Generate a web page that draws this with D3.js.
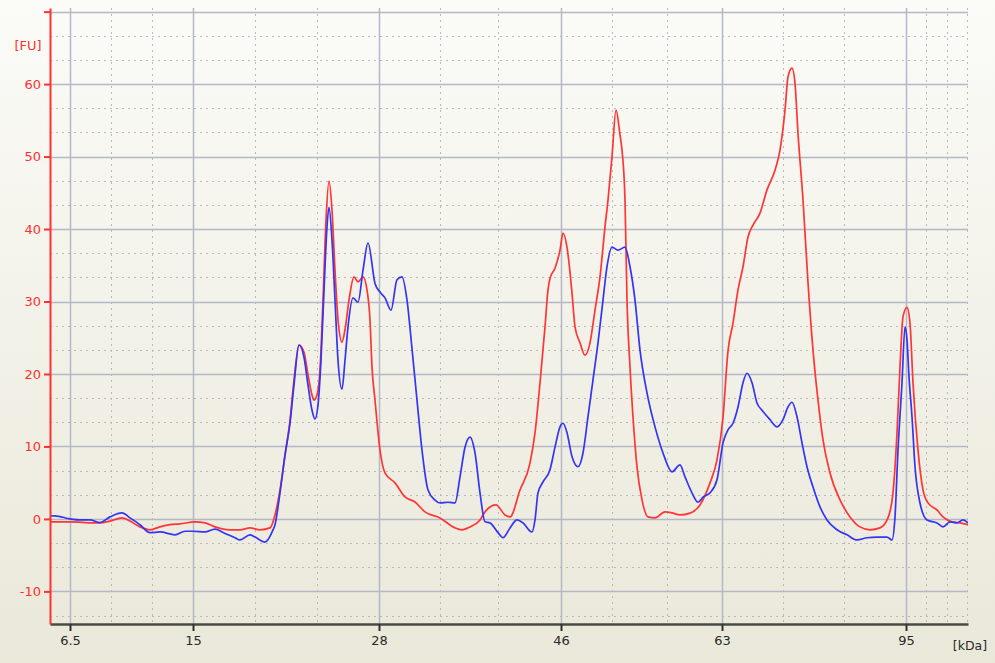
<!DOCTYPE html>
<html><head><meta charset="utf-8">
<script src="https://cdn.jsdelivr.net/npm/d3@7"></script>
<style>html,body{margin:0;padding:0;overflow:hidden;}svg{display:block;}</style>
</head><body>
<svg id="chart" width="995" height="663"></svg>
<script>
// migration time (s) and fluorescence (FU)
const redSeries = [
[5.0,-0.4],[5.5,-0.4],[7.0,-0.4],[8.5,-0.5],[10.0,-0.55],[11.0,-0.3],[12.2,0.14],[13.0,-0.3],[14.0,-1.1],[15.0,-1.5],
[16.0,-1.1],[17.0,-0.8],[18.0,-0.69],[19.5,-0.41],[20.5,-0.55],[21.5,-1.1],[23.0,-1.5],[24.0,-1.5],[25.0,-1.24],[26.0,-1.5],
[27.0,-1.24],[27.5,0.55],[28.0,4.0],[28.5,8.8],[29.0,13.6],[29.4,19.2],[29.9,24.0],[30.4,23.0],[30.8,19.9],[31.2,17.1],
[31.4,16.4],[31.7,17.1],[32.0,20.55],[32.3,30.2],[32.6,41.2],[32.9,46.6],[33.2,42.6],[33.5,34.3],[33.8,27.5],[34.2,24.4],
[34.5,26.1],[34.9,30.2],[35.4,33.4],[35.8,32.7],[36.3,33.4],[36.7,31.6],[37.0,27.45],[37.2,20.97],[37.5,16.4],[38.0,9.5],
[38.5,6.34],[39.5,4.97],[40.5,3.03],[41.5,2.34],[42.5,0.97],[44.0,0.14],[45.5,-1.24],[46.2,-1.5],[47.0,-1.1],[48.0,-0.14],
[48.5,0.97],[49.6,1.93],[50.5,0.55],[51.0,0.28],[52.0,4.0],[53.0,7.7],[53.5,11.86],[54.0,18.76],[54.5,26.5],[54.8,31.6],
[55.0,33.2],[55.5,34.6],[56.0,37.1],[56.3,39.45],[56.7,37.5],[57.2,31.2],[57.5,26.5],[58.0,24.3],[58.5,22.6],[59.0,24.3],
[59.5,28.8],[60.0,33.4],[60.5,40.3],[60.8,44.0],[61.2,50.0],[61.6,56.4],[62.0,53.0],[62.2,50.9],[62.5,44.0],[62.7,30.2],
[63.0,20.97],[63.3,14.07],[63.7,7.17],[64.2,2.62],[64.8,0.28],[65.5,0.14],[66.5,0.97],[67.2,0.83],[68.0,0.55],[69.0,0.8],
[70.0,1.93],[71.0,4.97],[71.7,8.14],[72.3,14.0],[72.8,23.2],[73.3,27.0],[73.8,31.6],[74.3,34.8],[74.8,38.9],[75.3,40.55],
[76.0,42.2],[76.7,45.4],[77.5,48.1],[78.0,50.9],[78.5,56.4],[78.8,61.0],[79.2,62.2],[79.5,60.1],[79.8,53.2],[80.3,44.0],
[80.8,32.6],[81.3,23.3],[81.8,16.4],[82.3,10.9],[83.0,6.34],[84.0,2.62],[85.0,0.28],[86.0,-1.1],[87.0,-1.5],[88.0,-1.24],
[88.8,0.14],[89.3,3.59],[89.7,11.9],[90.0,20.97],[90.3,27.9],[90.7,29.2],[91.0,27.0],[91.3,18.76],[91.8,9.5],[92.3,4.0],
[92.8,2.21],[93.7,1.24],[94.3,0.28],[95.2,-0.41],[96.0,-0.55],[96.8,-0.8]
];
const blueSeries = [
[5.0,0.4],[5.5,0.41],[7.0,0.0],[8.0,-0.14],[9.0,-0.14],[10.0,-0.5],[11.0,0.28],[12.2,0.83],[13.0,0.14],[14.0,-0.8],
[15.0,-1.9],[16.0,-1.8],[17.5,-2.2],[18.5,-1.7],[19.3,-1.7],[20.5,-1.8],[21.5,-1.4],[22.5,-2.0],[23.5,-2.6],[24.0,-2.9],
[25.0,-2.2],[25.5,-2.5],[26.5,-3.2],[27.3,-1.52],[27.5,-0.8],[28.0,3.59],[28.5,8.8],[29.0,13.2],[29.4,18.5],[29.9,24.0],
[30.4,22.3],[30.8,18.5],[31.2,15.0],[31.5,13.8],[31.8,15.7],[32.1,21.9],[32.4,31.5],[32.7,40.3],[32.9,43.0],[33.2,38.5],
[33.5,30.2],[33.8,21.9],[34.2,17.9],[34.5,21.9],[34.8,26.5],[35.3,30.5],[35.8,29.9],[36.3,34.3],[36.8,38.1],[37.5,32.5],
[38.0,31.3],[38.5,30.5],[39.1,28.8],[39.7,33.0],[40.2,33.4],[40.7,30.2],[41.2,23.5],[41.7,16.4],[42.2,9.5],[42.8,4.0],
[43.5,2.6],[44.0,2.2],[44.8,2.3],[45.5,2.2],[46.0,5.8],[46.5,9.9],[47.0,11.3],[47.5,9.1],[48.0,3.6],[48.5,-0.4],
[49.0,-0.55],[49.8,-1.9],[50.3,-2.6],[51.0,-1.24],[51.7,-0.14],[52.3,-0.55],[53.2,-1.8],[53.5,-0.14],[53.8,3.6],[54.3,5.1],
[55.0,6.8],[55.5,9.9],[56.0,12.7],[56.3,13.2],[56.7,11.9],[57.2,8.6],[57.8,7.2],[58.3,9.1],[58.8,14.1],[59.3,19.2],
[59.8,24.3],[60.3,30.2],[60.7,34.8],[61.2,37.5],[61.8,37.1],[62.5,37.5],[63.0,34.8],[63.5,30.2],[64.0,23.3],[64.7,17.4],
[65.5,12.7],[66.3,9.1],[67.2,6.5],[68.0,7.45],[68.5,5.8],[69.2,3.6],[69.8,2.3],[70.3,3.0],[71.0,3.6],[71.7,5.4],
[72.3,10.5],[72.8,12.3],[73.3,13.2],[73.8,15.45],[74.3,18.8],[74.7,20.1],[75.2,18.8],[75.7,16.0],[76.2,15.0],[77.0,13.7],
[77.7,12.7],[78.3,13.7],[78.8,15.45],[79.2,16.1],[79.7,14.1],[80.2,10.5],[80.7,7.2],[81.3,4.4],[82.0,1.66],[82.7,-0.14],
[83.7,-1.5],[84.7,-2.2],[85.7,-2.9],[86.7,-2.6],[87.7,-2.5],[88.7,-2.5],[89.2,-2.9],[89.5,0.28],[89.8,9.5],[90.2,18.8],
[90.5,26.5],[90.7,24.7],[90.9,19.6],[91.2,14.1],[91.5,7.2],[92.0,2.2],[92.7,-0.14],[93.7,-0.55],[94.3,-1.1],[95.0,-0.41],
[95.7,-0.55],[96.3,-0.14],[96.8,-0.55]
];
const xTickPos = [7.0, 19.3, 37.9, 56.1, 72.2, 90.6];
const xTickLabels = ["6.5", "15", "28", "46", "63", "95"];
const xMinorPos = [11.1, 15.2, 25.5, 31.7, 44.0, 49.8, 61.2, 66.7, 78.3, 84.4, 92.6, 94.7, 96.7];
const yTicks = [-10, 0, 10, 20, 30, 40, 50, 60, 70];
const yTickLabels = ["-10", "0", "10", "20", "30", "40", "50", "60", ""];
const xUnit = "[kDa]";
const yUnit = "[FU]";

const svg = d3.select("#chart");
const W = 995, H = 663;
const m = {left: 50, right: 27, top: 8, bottom: 39};

const defs = svg.append("defs");
const grad = defs.append("linearGradient").attr("id", "bg").attr("x1", 0).attr("y1", 0).attr("x2", 0).attr("y2", 1);
grad.append("stop").attr("offset", "0%").attr("stop-color", "#fbfbf8");
grad.append("stop").attr("offset", "100%").attr("stop-color", "#eae8d9");
defs.append("clipPath").attr("id", "clip").append("rect")
  .attr("x", m.left).attr("y", m.top).attr("width", W - m.left - m.right).attr("height", H - m.top - m.bottom);

svg.append("rect").attr("width", W).attr("height", H).attr("fill", "url(#bg)");

const x = d3.scaleLinear().domain([5.0, 96.8]).range([m.left, W - m.right]);
const y = d3.scaleLinear().domain([-14.5, 70.5]).range([H - m.bottom, m.top]);

// minor horizontal grid (thirds)
const yMinor = [];
for (let i = -14; i <= 70; i++) { const v = i * 10 / 3; if (i % 3 !== 0 && v > -14.5 && v < 70.5) yMinor.push(v); }
const g = svg.append("g");
g.selectAll(".hm").data(yMinor).join("line")
  .attr("x1", m.left).attr("x2", W - m.right)
  .attr("y1", d => Math.round(y(d)) + 0.5).attr("y2", d => Math.round(y(d)) + 0.5)
  .attr("stroke", "#b9b9b9").attr("stroke-width", 1).attr("stroke-dasharray", "2,4");
g.selectAll(".vm").data(xMinorPos).join("line")
  .attr("x1", d => Math.round(x(d)) + 0.5).attr("x2", d => Math.round(x(d)) + 0.5)
  .attr("y1", m.top).attr("y2", H - m.bottom)
  .attr("stroke", "#b9b9b9").attr("stroke-width", 1).attr("stroke-dasharray", "2,4");
// major grid
g.selectAll(".hM").data(yTicks).join("line")
  .attr("x1", m.left).attr("x2", W - m.right)
  .attr("y1", d => Math.round(y(d)) + 0.5).attr("y2", d => Math.round(y(d)) + 0.5)
  .attr("stroke", "#b3b7c6").attr("stroke-width", 1.5);
g.selectAll(".vM").data(xTickPos).join("line")
  .attr("x1", d => Math.round(x(d)) + 0.5).attr("x2", d => Math.round(x(d)) + 0.5)
  .attr("y1", m.top).attr("y2", H - m.bottom)
  .attr("stroke", "#b3b7c6").attr("stroke-width", 1.5);

// traces
const line = d3.line().x(d => x(d[0])).y(d => y(d[1])).curve(d3.curveMonotoneX);
const traces = svg.append("g").attr("clip-path", "url(#clip)");
traces.append("path").datum(redSeries).attr("d", line).attr("fill", "none")
  .attr("stroke", "#ff3535").attr("stroke-width", 1.7).attr("stroke-linejoin", "round");
traces.append("path").datum(blueSeries).attr("d", line).attr("fill", "none")
  .attr("stroke", "#3434f4").attr("stroke-width", 1.7).attr("stroke-linejoin", "round");

// x axis
const xAxis = d3.axisBottom(x).tickValues(xTickPos).tickFormat((d, i) => xTickLabels[i]).tickSize(7).tickSizeOuter(0).tickPadding(5);
const xg = svg.append("g").attr("transform", `translate(0,${H - m.bottom})`).call(xAxis);
xg.select(".domain").attr("stroke", "#4a4a44").attr("stroke-width", 2.5);
xg.selectAll(".tick line").attr("stroke", "#333").attr("stroke-width", 2);
xg.selectAll(".tick text").attr("fill", "#2a2a2a").attr("font-family", "DejaVu Sans, Verdana, sans-serif").attr("font-size", 13);
svg.append("text").attr("x", 970).attr("y", H - 13).attr("text-anchor", "middle")
  .attr("fill", "#2a2a2a").attr("font-family", "DejaVu Sans, Verdana, sans-serif").attr("font-size", 12.5).text(xUnit);

// y axis
const yAxis = d3.axisLeft(y).tickValues(yTicks).tickFormat((d, i) => yTickLabels[i]).tickSize(6).tickSizeOuter(0).tickPadding(3);
const yg = svg.append("g").attr("transform", `translate(${m.left},0)`).call(yAxis);
yg.select(".domain").attr("stroke", "#ff3030").attr("stroke-width", 2);
yg.selectAll(".tick line").attr("stroke", "#ff3030").attr("stroke-width", 2);
yg.selectAll(".tick text").attr("fill", "#ff3030").attr("font-family", "DejaVu Sans, Verdana, sans-serif").attr("font-size", 13);
svg.append("text").attr("x", 28).attr("y", 50).attr("text-anchor", "middle")
  .attr("fill", "#ff3030").attr("font-family", "DejaVu Sans, Verdana, sans-serif").attr("font-size", 13).text(yUnit);
</script>
</body></html>
